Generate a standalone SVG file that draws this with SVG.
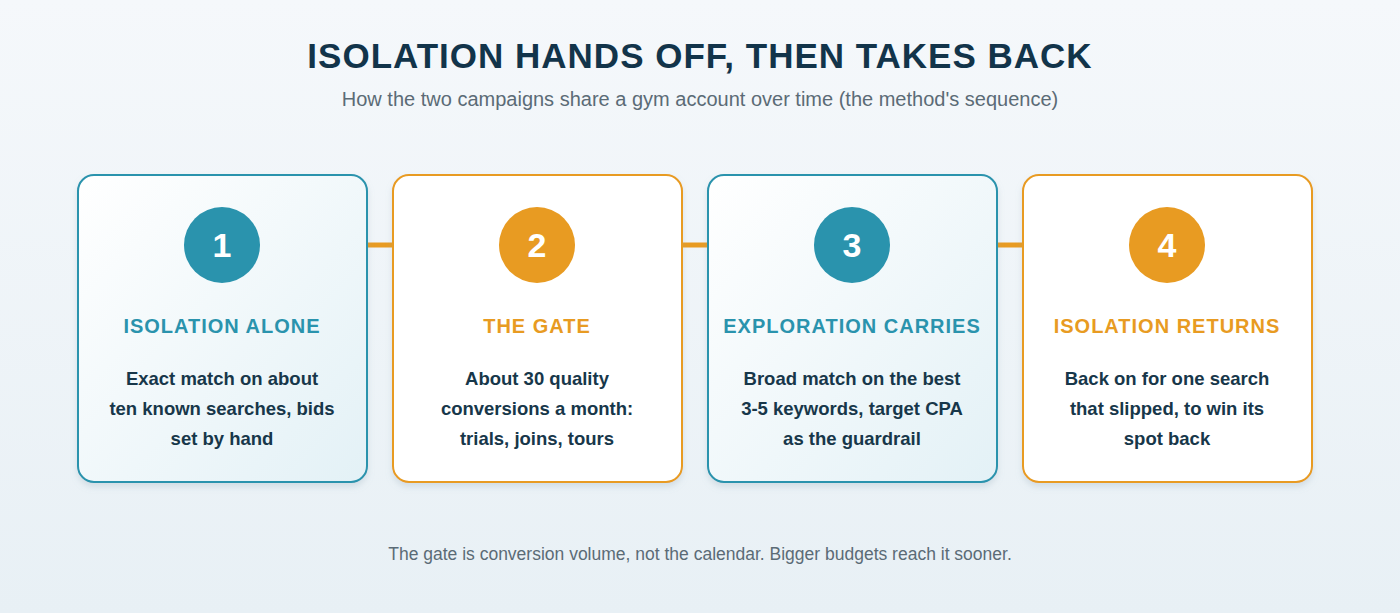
<svg xmlns="http://www.w3.org/2000/svg" width="1400" height="613" viewBox="0 0 1400 613">
<defs>
<linearGradient id="bg" x1="0" y1="0" x2="0" y2="1"><stop offset="0" stop-color="#f5f8fb"/><stop offset="1" stop-color="#e8f0f5"/></linearGradient>
<linearGradient id="tealFill" x1="0" y1="0" x2="1" y2="1"><stop offset="0" stop-color="#ffffff"/><stop offset="1" stop-color="#e3f1f6"/></linearGradient>
<filter id="sh" x="-10%" y="-10%" width="120%" height="125%"><feDropShadow dx="0" dy="4" stdDeviation="3" flood-color="#8aa0b0" flood-opacity="0.25"/></filter>
<style>
.title{font-family:"Liberation Sans",Arial,sans-serif;font-weight:bold;font-size:35px;fill:#12344a;text-anchor:middle;letter-spacing:1px}
.sub{font-family:"Liberation Sans",Arial,sans-serif;font-size:20px;fill:#5b6b76;text-anchor:middle}
.foot{font-family:"Liberation Sans",Arial,sans-serif;font-size:17.5px;fill:#5b6b76;text-anchor:middle}
.card-t{fill:url(#tealFill);stroke:#2a93ad;stroke-width:2}
.card-o{fill:#ffffff;stroke:#e89b22;stroke-width:2}
.num{font-family:"Liberation Sans",Arial,sans-serif;font-weight:bold;font-size:34px;fill:#ffffff;text-anchor:middle}
.head{font-family:"Liberation Sans",Arial,sans-serif;font-weight:bold;font-size:20px;text-anchor:middle;letter-spacing:1px}
.body{font-family:"Liberation Sans",Arial,sans-serif;font-weight:bold;font-size:18.5px;fill:#17374a;text-anchor:middle}
.conn{stroke:#e89b22;stroke-width:5}
</style>
</defs>
<rect width="1400" height="613" fill="url(#bg)"/>
<text class="title" x="700" y="68">ISOLATION HANDS OFF, THEN TAKES BACK</text>
<text class="sub" x="700" y="106">How the two campaigns share a gym account over time (the method's sequence)</text>
<g id="connectors">
<line class="conn" x1="367" y1="245" x2="393" y2="245"/>
<line class="conn" x1="682" y1="245" x2="708" y2="245"/>
<line class="conn" x1="997" y1="245" x2="1023" y2="245"/>
</g>
<g id="step1">
<rect class="card-t" x="78" y="175" width="289" height="307" rx="16" filter="url(#sh)"/>
<circle cx="222" cy="245" r="38" fill="#2a93ad"/>
<text class="num" x="222" y="257">1</text>
<text class="head" x="222" y="333" fill="#2a93ad">ISOLATION ALONE</text>
<text class="body" x="222" y="385">Exact match on about</text>
<text class="body" x="222" y="415">ten known searches, bids</text>
<text class="body" x="222" y="445">set by hand</text>
</g>
<g id="step2">
<rect class="card-o" x="393" y="175" width="289" height="307" rx="16" filter="url(#sh)"/>
<circle cx="537" cy="245" r="38" fill="#e89b22"/>
<text class="num" x="537" y="257">2</text>
<text class="head" x="537" y="333" fill="#e89b22">THE GATE</text>
<text class="body" x="537" y="385">About 30 quality</text>
<text class="body" x="537" y="415">conversions a month:</text>
<text class="body" x="537" y="445">trials, joins, tours</text>
</g>
<g id="step3">
<rect class="card-t" x="708" y="175" width="289" height="307" rx="16" filter="url(#sh)"/>
<circle cx="852" cy="245" r="38" fill="#2a93ad"/>
<text class="num" x="852" y="257">3</text>
<text class="head" x="852" y="333" fill="#2a93ad">EXPLORATION CARRIES</text>
<text class="body" x="852" y="385">Broad match on the best</text>
<text class="body" x="852" y="415">3-5 keywords, target CPA</text>
<text class="body" x="852" y="445">as the guardrail</text>
</g>
<g id="step4">
<rect class="card-o" x="1023" y="175" width="289" height="307" rx="16" filter="url(#sh)"/>
<circle cx="1167" cy="245" r="38" fill="#e89b22"/>
<text class="num" x="1167" y="257">4</text>
<text class="head" x="1167" y="333" fill="#e89b22">ISOLATION RETURNS</text>
<text class="body" x="1167" y="385">Back on for one search</text>
<text class="body" x="1167" y="415">that slipped, to win its</text>
<text class="body" x="1167" y="445">spot back</text>
</g>
<text class="foot" x="700" y="560">The gate is conversion volume, not the calendar. Bigger budgets reach it sooner.</text>
</svg>
